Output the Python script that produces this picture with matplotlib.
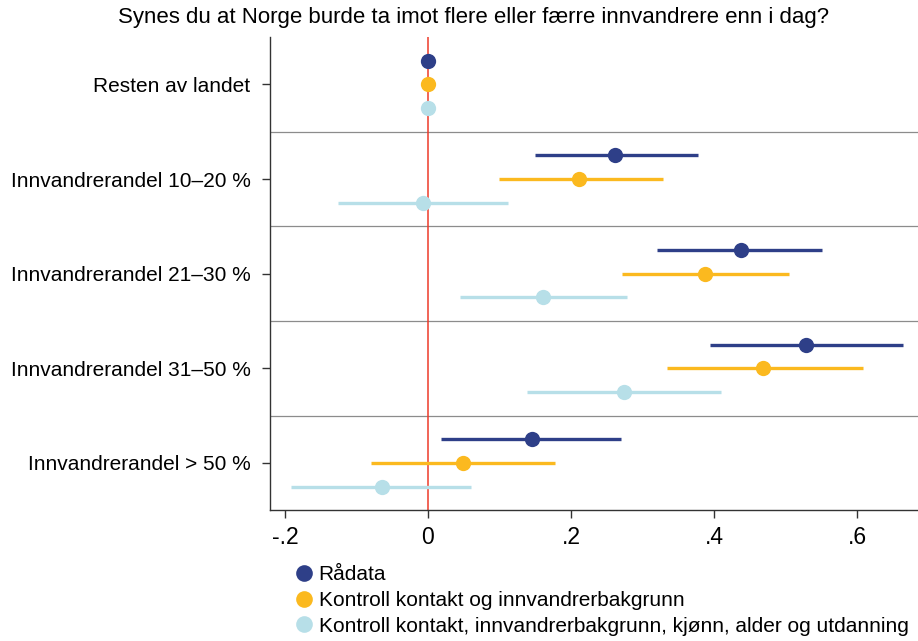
import numpy as np
import matplotlib.pyplot as plt
from matplotlib.lines import Line2D

plt.rcParams['font.family'] = ['Liberation Sans', 'DejaVu Sans']

# groups, top to bottom
groups = ['Resten av landet', 'Innvandrerandel 10\u201320 %', 'Innvandrerandel 21\u201330 %',
          'Innvandrerandel 31\u201350 %', 'Innvandrerandel > 50 %']
series = ['R\u00e5data', 'Kontroll kontakt og innvandrerbakgrunn',
          'Kontroll kontakt, innvandrerbakgrunn, kj\u00f8nn, alder og utdanning']
colors = ['#2e3f88', '#fbb91f', '#b7dfe8']

est_raw = [0.0, 0.261, 0.438, 0.529, 0.145]
lo_raw = [0.0, 0.150, 0.320, 0.394, 0.018]
hi_raw = [0.0, 0.378, 0.551, 0.664, 0.270]

est_ctrl1 = [0.0, 0.211, 0.387, 0.468, 0.049]
lo_ctrl1 = [0.0, 0.099, 0.271, 0.334, -0.079]
hi_ctrl1 = [0.0, 0.329, 0.505, 0.608, 0.177]

est_ctrl2 = [0.0, -0.007, 0.161, 0.274, -0.064]
lo_ctrl2 = [0.0, -0.126, 0.045, 0.139, -0.192]
hi_ctrl2 = [0.0, 0.112, 0.278, 0.410, 0.060]

xticks = [-0.2, 0, 0.2, 0.4, 0.6]
xticklabels = ['-.2', '0', '.2', '.4', '.6']

fig = plt.figure(figsize=(9.18, 6.41), dpi=100)
ax = fig.add_axes([0.294, 0.204, 0.706, 0.738])

ypos = np.arange(len(groups))
offsets = [-0.25, 0.0, 0.25]
data = [(est_raw, lo_raw, hi_raw), (est_ctrl1, lo_ctrl1, hi_ctrl1), (est_ctrl2, lo_ctrl2, hi_ctrl2)]

# separators between groups
for s in np.arange(0.5, len(groups) - 1, 1.0):
    ax.axhline(s, color='#8c8c8c', lw=0.9, zorder=1)

ax.axvline(0, color='#ee3a2a', lw=1.1, zorder=2)

for (est, lo, hi), off, c in zip(data, offsets, colors):
    y = ypos + off
    ax.hlines(y, lo, hi, color=c, lw=2.4, zorder=3)
    ax.plot(est, y, 'o', color=c, ms=11, mec='none', zorder=4)

ax.set_xlim(-0.221, 0.685)
ax.set_ylim(len(groups) - 0.5, -0.5)
ax.set_yticks(ypos)
ax.set_yticklabels(groups, fontsize=15)
ax.set_xticks(xticks)
ax.set_xticklabels(xticklabels, fontsize=16.5)
ax.tick_params(axis='y', length=6, width=1, color='#333333', pad=8)
ax.tick_params(axis='x', length=6, width=1, color='#333333', pad=5)
for side in ['top', 'right']:
    ax.spines[side].set_visible(False)
for side in ['left', 'bottom']:
    ax.spines[side].set_color('#333333')
    ax.spines[side].set_linewidth(1.0)

fig.text(0.516, 0.972, 'Synes du at Norge burde ta imot flere eller f\u00e6rre innvandrere enn i dag?',
         ha='center', va='center', fontsize=16)

handles = [Line2D([], [], marker='o', ls='none', color=c, ms=12, mec='none') for c in colors]
fig.legend(handles, series, loc='upper left', bbox_to_anchor=(0.322, 0.118),
           frameon=False, fontsize=15, handletextpad=0.3, handlelength=0.8,
           labelspacing=0.32, borderpad=0, borderaxespad=0)

fig.savefig('out.png', dpi=100)
